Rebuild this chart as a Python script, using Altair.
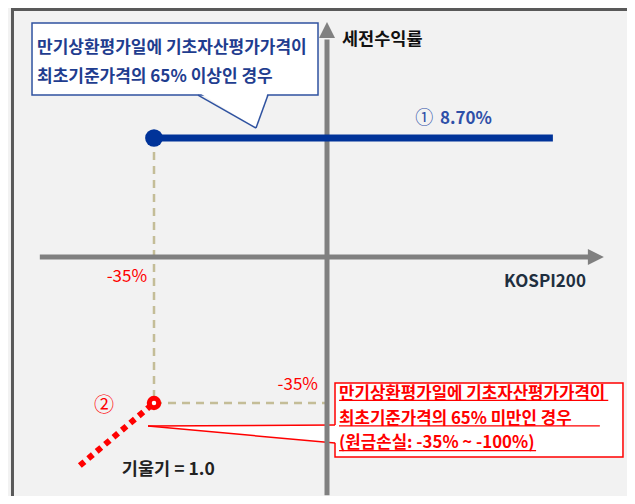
import altair as alt
import pandas as pd

FONT = "Noto Sans CJK KR"

# ---- payoff data: x = KOSPI200 change at maturity (%), y = pre-tax return (%)
flat_x = [-35.0, 45.7]      # branch ① : fixed 8.70% return
flat_y = [8.70, 8.70]
loss_x = [-35.0, -50.0]     # branch ② : loss, slope 1.0
loss_y = [-35.0, -50.0]
knot_x = [-35.0]
knot_y_hi = [8.70]
knot_y_lo = [-35.0]

# axis extents (data units)
haxis_x = [-58.1, 53.3]
vaxis_y = [-57.1, 15.9]
harrow = [54.4]
varrow = [16.6]

# annotation texts
axis_y_title = "세전수익률"
axis_x_title = "KOSPI200"
blue_lines = ["만기상환평가일에 기초자산평가가격이", "최초기준가격의 65% 이상인 경우"]
red_lines = ["만기상환평가일에 기초자산평가가격이", "최초기준가격의 65% 미만인 경우",
             "(원금손실: -35% ~ -100%)"]
coupon_label = "8.70%"
barrier_label = "-35%"
slope_label = "기울기 = 1.0"

# (non-linear diagram: piecewise scales, diagram is not to scale)
xs = alt.Scale(domain=[-35, 0], range=[146, 319], nice=False, zero=False)
ys = alt.Scale(domain=[-35, 0, 8.7], range=[395, 249, 130], nice=False, zero=False)


def X(f="x"):
    return alt.X(f"{f}:Q", scale=xs, axis=None)


def Y(f="y"):
    return alt.Y(f"{f}:Q", scale=ys, axis=None)


def seg(rows, **mk):
    df = pd.DataFrame(rows, columns=["x", "y", "x2", "y2"])
    return alt.Chart(df).mark_rule(**mk).encode(
        x=X(), y=Y(), x2=alt.X2("x2:Q"), y2=alt.Y2("y2:Q"))


def txt(rows, **mk):
    df = pd.DataFrame(rows, columns=["x", "y", "t"])
    base = dict(font=FONT, baseline="middle")
    base.update(mk)
    return alt.Chart(df).mark_text(**base).encode(x=X(), y=Y(), text="t:N")


GREY = "#808080"
FRAME = "#595959"
BLUE = "#003399"
BLUE_TXT = "#1f3d8f"
RED = "#ff0000"
TAN = "#c4bd97"

layers = []

# frame
layers.append(seg([[-63.63, 18.3, -63.63, -57.6]], color=FRAME, strokeWidth=3))
layers.append(seg([[-63.63, 18.09, 62.5, 18.09]], color=FRAME, strokeWidth=3))

# blue callout
blue_box = pd.DataFrame({"x": [-59.68], "x2": [-1.82], "y": [17.11], "y2": [11.84]})
layers.append(alt.Chart(blue_box).mark_rect(fill="white", stroke="#2f52a0", strokeWidth=1.5).encode(
    x=X(), x2="x2:Q", y=Y(), y2="y2:Q"))
blue_wedge = pd.DataFrame({"y": [12.06, 9.43], "x": [-26.10, -14.36], "x2": [-11.94, -14.36]})
layers.append(alt.Chart(blue_wedge).mark_area(fill="white", orient="horizontal").encode(
    y=Y(), x=X(), x2="x2:Q"))
layers.append(seg([[-26.10, 11.84, -14.36, 9.43], [-11.94, 11.84, -14.36, 9.43]],
                  color="#2f52a0", strokeWidth=1.5))

# red callout
red_box = pd.DataFrame({"x": [1.62], "x2": [59.88], "y": [-30.21], "y2": [-47.95]})
layers.append(alt.Chart(red_box).mark_rect(fill="white", stroke=RED, strokeWidth=1.5).encode(
    x=X(), x2="x2:Q", y=Y(), y2="y2:Q"))
red_wedge = pd.DataFrame({"x": [-36.21, 2.2], "y": [-40.52, -40.28], "y2": [-40.52, -44.59]})
layers.append(alt.Chart(red_wedge).mark_area(fill="white", orient="vertical").encode(
    x=X(), y=Y(), y2="y2:Q"))
layers.append(seg([[-36.21, -40.52, 1.62, -40.28], [-36.21, -40.52, 1.62, -44.59]],
                  color=RED, strokeWidth=1.5))

# dashed guides
layers.append(seg([[knot_x[0], knot_y_hi[0], knot_x[0], knot_y_lo[0]],
                   [knot_x[0], knot_y_lo[0], 0, knot_y_lo[0]]],
                  color=TAN, strokeWidth=2.5, strokeDash=[8, 6]))

# axes
layers.append(seg([[haxis_x[0], 0, haxis_x[1], 0]], color=GREY, strokeWidth=5))
layers.append(seg([[0, vaxis_y[0], 0, vaxis_y[1]]], color=GREY, strokeWidth=5))
layers.append(alt.Chart(pd.DataFrame({"x": harrow, "y": [0]})).mark_point(
    shape="M -1 -1 L 1 0 L -1 1 Z", filled=True, color=GREY, size=256, opacity=1).encode(x=X(), y=Y()))
layers.append(alt.Chart(pd.DataFrame({"x": [0], "y": varrow})).mark_point(
    shape="M -1 1 L 0 -1 L 1 1 Z", filled=True, color=GREY, size=256, opacity=1).encode(x=X(), y=Y()))

# branch ①
flat = pd.DataFrame({"x": flat_x, "y": flat_y})
layers.append(alt.Chart(flat).mark_line(color=BLUE, strokeWidth=7).encode(x=X(), y=Y()))
layers.append(alt.Chart(pd.DataFrame({"x": knot_x, "y": knot_y_hi})).mark_circle(
    color=BLUE, size=314, opacity=1).encode(x=X(), y=Y()))

# branch ②
loss = pd.DataFrame({"x": loss_x, "y": loss_y})
layers.append(alt.Chart(loss).mark_line(color=RED, strokeWidth=6, strokeDash=[6, 5],
                                        strokeCap="butt").encode(x=X(), y=Y()))
layers.append(alt.Chart(pd.DataFrame({"x": knot_x, "y": knot_y_lo})).mark_point(
    shape="circle", fill="white", stroke=RED, strokeWidth=5, size=90, filled=False,
    opacity=1).encode(x=X(), y=Y()))

# texts
layers.append(txt([[3.03, 15.87, axis_y_title]], align="left", fontSize=17.5,
                  fontWeight="bold", color="#111111"))
layers.append(txt([[44.1, -6.0, axis_x_title]], align="center", fontSize=17,
                  fontWeight="bold", color="#1f2f3f"))
layers.append(txt([[19.7, 10.09, "①"]], align="center", fontSize=18, color="#2e4fa8"))
layers.append(txt([[22.86, 10.09, coupon_label]], align="left", fontSize=17,
                  fontWeight="bold", color="#2e4fa8"))
layers.append(txt([[-36.4, -4.8, barrier_label], [-1.82, -30.7, barrier_label]],
                  align="right", fontSize=17, color=RED))
layers.append(txt([[-45.1, -35.7, "②"]], align="center", fontSize=20, color=RED))
layers.append(txt([[-41.5, -51.07, slope_label]], align="left", fontSize=17.5,
                  fontWeight="bold", color="#222222"))
layers.append(txt([[-58.67, 15.28, blue_lines[0]], [-58.67, 13.16, blue_lines[1]]],
                  align="left", fontSize=17, fontWeight="bold", color=BLUE_TXT))
layers.append(txt([[2.43, -32.85, red_lines[0]], [2.43, -38.85, red_lines[1]],
                   [2.43, -44.6, red_lines[2]]],
                  align="left", fontSize=16.8, fontWeight="bold", color=RED))
# underline of the red callout text
layers.append(seg([[2.43, -34.35, 56.9, -34.35], [2.43, -40.5, 55.2, -40.5],
                   [2.43, -46.4, 42.3, -46.4]], color=RED, strokeWidth=1.3))

chart = alt.layer(*layers).properties(
    width=619, height=488, background="#f2f2f2",
    autosize=alt.AutoSizeParams(type="none"), padding=0,
).configure_view(fill="#f2f2f2", strokeWidth=0)

chart.save("out.html", embed_options={"renderer": "svg", "actions": False})
